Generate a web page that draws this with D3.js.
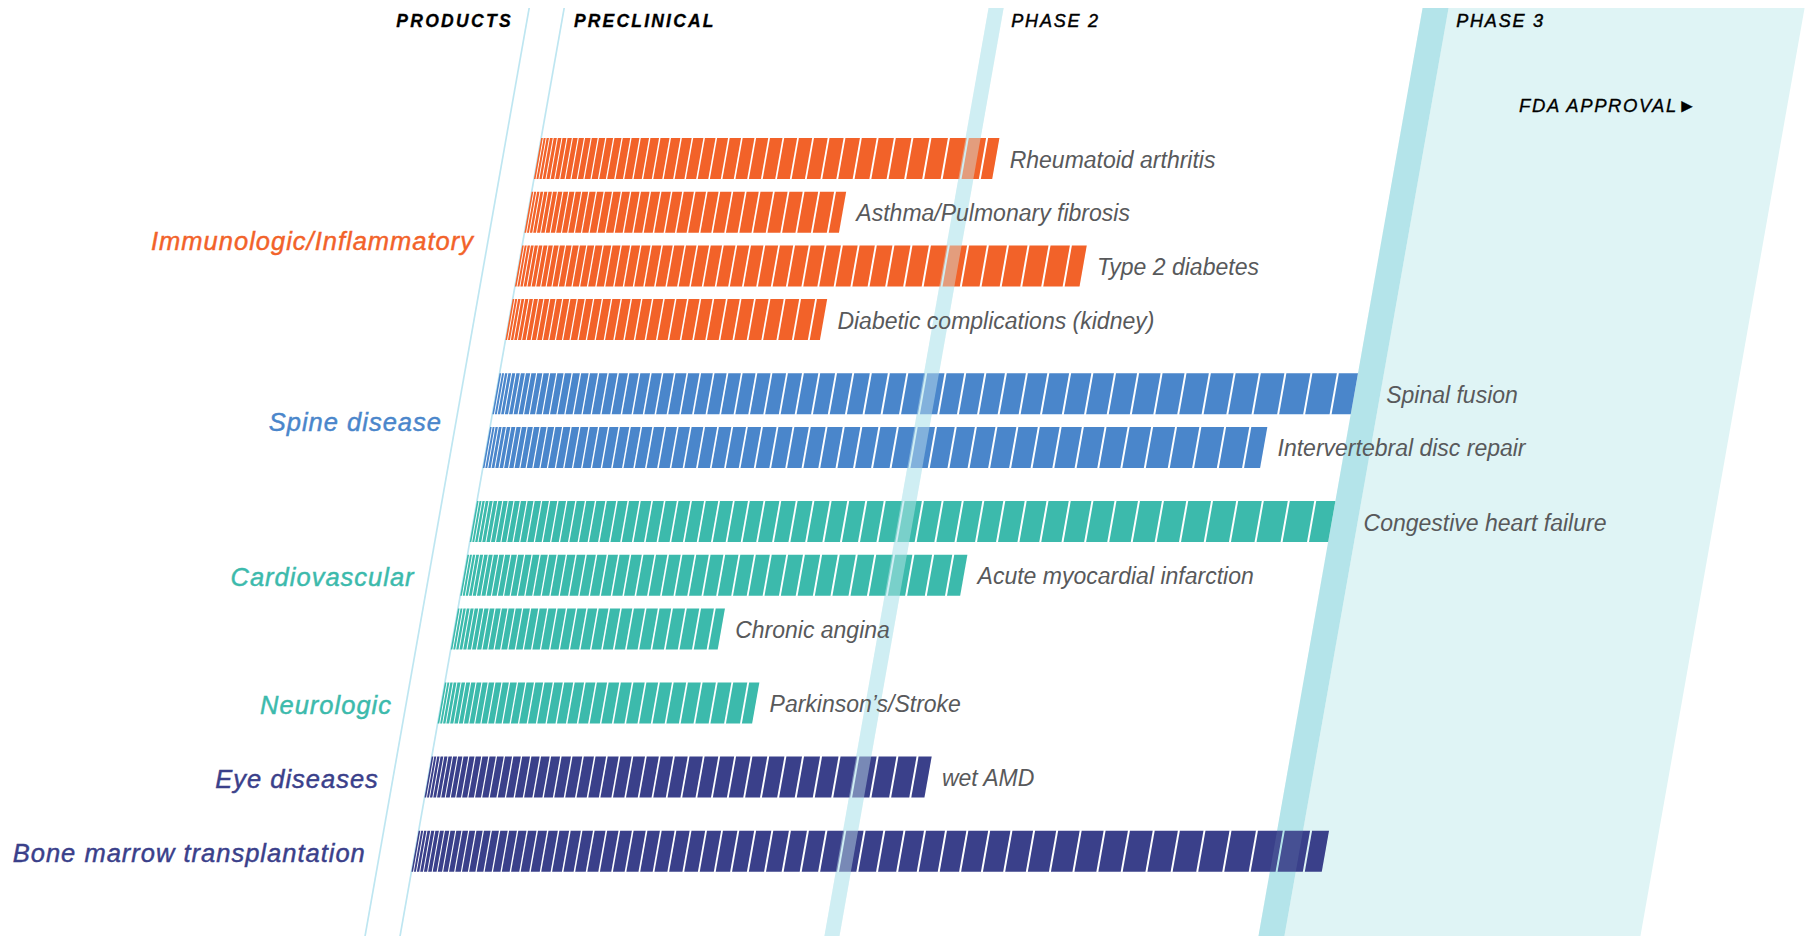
<!DOCTYPE html>
<html><head><meta charset="utf-8">
<script src="https://cdn.jsdelivr.net/npm/d3@7"></script>
<style>
body{margin:0;background:#fff;}
svg{display:block;}
text{font-family:"Liberation Sans",Arial,Helvetica,sans-serif;font-style:italic;}
</style>
</head><body>
<svg id="chart" width="1812" height="936"></svg>
<script>
// ---------------- data ----------------
const groups = ["Immunologic/Inflammatory","Spine disease","Cardiovascular","Neurologic","Eye diseases","Bone marrow transplantation"];
const groupColors = ["#F26229","#4A86CB","#3CBAAC","#3CBAAC","#3A408A","#3A408A"];
const products = ["Rheumatoid arthritis","Asthma/Pulmonary fibrosis","Type 2 diabetes","Diabetic complications (kidney)",
  "Spinal fusion","Intervertebral disc repair","Congestive heart failure","Acute myocardial infarction","Chronic angina",
  "Parkinson\u2019s/Stroke","wet AMD",""];
const productGroup = [0,0,0,0,1,1,2,2,2,3,4,5];
// development progress in stage units: 0 = start of preclinical, 1 = phase 2, 2 = phase 3, 3 = FDA approval
const progress = [1.078,0.741,1.323,0.741,2.0,1.813,2.0,1.174,0.629,0.741,1.174,2.136];
const stageTicks = [0,1,2,3];
const stageLabels = ["PRECLINICAL","PHASE 2","PHASE 3"];
const stageLabelAt = [0,1.0346,2.068];
const headerLabel = "PRODUCTS";
const approvalLabel = "FDA APPROVAL\u25BA";

// ---------------- layout ----------------
const W = 1812, H = 936;
const SKEW = 10.03;
const TAN = Math.tan(SKEW*Math.PI/180);
const svg = d3.select("#chart");
const x = d3.scaleLinear().domain(stageTicks).range([565.6, 990, 1424, 1806]);
const slot = (i) => i + productGroup[i]*0.38;
const y = d3.scaleLinear().domain([0,1]).range([138, 191.7]);
const barH = 41;
const topY = 8;
const productsLineU = 530.6;

const g = svg.append("g").attr("transform", `skewX(${-SKEW})`);

// phase 3 area
g.append("rect").attr("x", x(2.068)).attr("y", topY).attr("width", x(3)-x(2.068)).attr("height", H+20).attr("fill", "#DFF4F5");
g.append("rect").attr("x", x(2)).attr("y", topY).attr("width", x(2.068)-x(2)).attr("height", H+20).attr("fill", "#B5E5EA");
// phase 2 band
g.append("rect").attr("x", x(1)).attr("y", topY).attr("width", x(1.0346)-x(1)).attr("height", H+20).attr("fill", "#CFEEF3");
// products & preclinical lines
[productsLineU, x(0)].forEach(u => {
  g.append("line").attr("x1", u).attr("x2", u).attr("y1", topY).attr("y2", H+20)
    .attr("stroke", "#BEE6F1").attr("stroke-width", 1.7);
});

// bars made of widening stripes
function segments(width){
  const segs = [];
  let p = 0, i = 0;
  while (p < width - 0.5){
    const stride = 2.5 + 0.42*i;
    const gap = Math.min(2, 0.9 + 0.03*i);
    let end = p + stride - gap;
    if (p + stride >= width - 1) end = width;
    segs.push([p, Math.min(end, width)]);
    p += stride; i++;
  }
  return segs;
}

products.forEach((name, i) => {
  const top = y(slot(i));
  const color = groupColors[productGroup[i]];
  const wbar = x(progress[i]) - x(0);
  g.append("g").selectAll("rect").data(segments(wbar)).join("rect")
    .attr("x", d => x(0) + d[0]).attr("y", top)
    .attr("width", d => d[1]-d[0]).attr("height", barH)
    .attr("fill", color);
});

// translucent overlays of bands above bars
g.append("rect").attr("x", x(1)).attr("y", topY).attr("width", x(1.0346)-x(1)).attr("height", H+20)
  .attr("fill", "#CFEEF3").attr("fill-opacity", 0.42);
g.append("rect").attr("x", x(2)).attr("y", topY).attr("width", x(2.068)-x(2)).attr("height", H+20)
  .attr("fill", "#B5E5EA").attr("fill-opacity", 0.1);

// ---------------- texts (not skewed) ----------------
const sx = (u, yy) => u - TAN*yy;

products.forEach((name, i) => {
  if (!name) return;
  const yc = y(slot(i)) + barH/2 + 1;
  let u = x(progress[i]) + 14;
  if (progress[i] >= 1.99) u = x(2.068) + 6;
  svg.append("text").attr("x", sx(u, yc)).attr("y", yc)
    .attr("dominant-baseline", "central").attr("font-size", 23)
    .attr("fill", "#58595B").text(name);
});

groups.forEach((gname, gi) => {
  const rows = productGroup.map((gg, i) => gg === gi ? i : -1).filter(i => i >= 0);
  const yc = d3.mean(rows, i => y(slot(i)) + barH/2) + 1.5;
  svg.append("text").attr("x", sx(productsLineU - 14, yc)).attr("y", yc)
    .attr("text-anchor", "end").attr("dominant-baseline", "central")
    .attr("font-size", 25.5).attr("letter-spacing", 1.0)
    .attr("fill", groupColors[gi]).attr("stroke", groupColors[gi]).attr("stroke-width", 0.45)
    .text(gname);
});

const hy = 21;
svg.append("text").attr("x", sx(productsLineU - 14, hy)).attr("y", hy)
  .attr("text-anchor", "end").attr("dominant-baseline", "central")
  .attr("font-size", 17.5).attr("font-weight", "bold").attr("letter-spacing", 2.3)
  .attr("fill", "#000").attr("stroke", "#000").attr("stroke-width", 0.3).text(headerLabel);

stageLabels.forEach((s, k) => {
  const t = svg.append("text").attr("x", sx(x(stageLabelAt[k]) + (k === 0 ? 12 : 10), hy)).attr("y", hy)
    .attr("dominant-baseline", "central")
    .attr("font-size", k === 0 ? 17.5 : 18).attr("font-weight", k === 0 ? "bold" : "normal")
    .attr("letter-spacing", k === 0 ? 2.2 : 1.8)
    .attr("fill", "#000").text(s);
  t.attr("stroke", "#000").attr("stroke-width", k === 0 ? 0.3 : 0.45);
});

const ay = 105;
svg.append("text").attr("x", sx((x(2.068)+x(3))/2 - 1, ay)).attr("y", ay)
  .attr("text-anchor", "middle").attr("dominant-baseline", "central")
  .attr("font-size", 18.5).attr("letter-spacing", 1.6)
  .attr("fill", "#000").attr("stroke", "#000").attr("stroke-width", 0.3)
  .text(approvalLabel);
</script>
</body></html>
